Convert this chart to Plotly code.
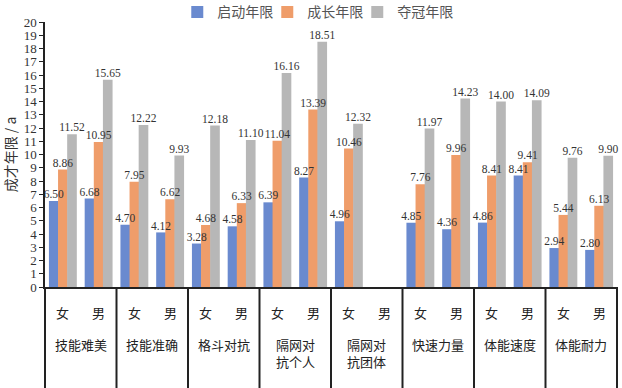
import plotly.graph_objects as go

groups = ["技能难美", "技能准确", "格斗对抗", "隔网对<br>抗个人", "隔网对<br>抗团体", "快速力量", "体能速度", "体能耐力"]
sexes = ["女", "男"]
series_names = ["启动年限", "成长年限", "夺冠年限"]
start_years = [6.50, 6.68, 4.70, 4.12, 3.28, 4.58, 6.39, 8.27, 4.96, None, 4.85, 4.36, 4.86, 8.41, 2.94, 2.80]
grow_years = [8.86, 10.95, 7.95, 6.62, 4.68, 6.33, 11.04, 13.39, 10.46, None, 7.76, 9.96, 8.41, 9.41, 5.44, 6.13]
champ_years = [11.52, 15.65, 12.22, 9.93, 12.18, 11.10, 16.16, 18.51, 12.32, None, 11.97, 14.23, 14.00, 14.09, 9.76, 9.90]
colors = ["#6A8ACF", "#EF9D6A", "#B7B7B7"]

n = len(groups) * len(sexes)
xs = list(range(n))

serif = "Liberation Serif, Times New Roman, serif"
cjk = "Noto Sans CJK SC, sans-serif"

bar_w = 0.27
offsets = [-0.39, -0.135, 0.12]

fig = go.Figure()
for name, vals, col, off in zip(series_names, [start_years, grow_years, champ_years], colors, offsets):
    fig.add_trace(go.Bar(
        x=xs, y=vals, name=name, marker_color=col, marker_line_width=0,
        width=bar_w, offset=off,
    ))
# spacer legend entry (invisible) so the last legend label is not clipped
fig.add_trace(go.Bar(x=[0], y=[0], name=" ", marker_color="rgba(0,0,0,0)",
                     marker_line_width=0, hoverinfo="skip", width=0.01))
for vals, off in zip([start_years, grow_years, champ_years], offsets):
    fig.add_trace(go.Scatter(
        x=[i + off + bar_w / 2 for i in xs], y=vals, mode="text",
        text=[("%.2f" % v) if v is not None else "" for v in vals],
        textposition="top center", cliponaxis=False, showlegend=False, hoverinfo="skip",
        textfont=dict(family=serif, size=11.5, color="#333"),
    ))

annotations = []
for i in xs:
    annotations.append(dict(x=(i + 0.5) / n, xref="paper", xanchor="center",
                            y=-0.098, yref="paper", yanchor="middle",
                            text=sexes[i % 2], showarrow=False,
                            font=dict(family=cjk, size=13, color="#222")))
for g, name in enumerate(groups):
    annotations.append(dict(x=(2 * g + 1) / n, xref="paper", xanchor="center",
                            y=-0.175, yref="paper", yanchor="top",
                            text=name, showarrow=False,
                            font=dict(family=cjk, size=13, color="#222")))

shapes = []
for g in range(len(groups) + 1):
    xp = 2 * g / n
    shapes.append(dict(type="line", xref="paper", yref="paper", x0=xp, x1=xp,
                       y0=0, y1=-0.40, line=dict(color="#222", width=2)))

fig.update_layout(
    width=622, height=388,
    margin=dict(l=45, r=5, t=22, b=101, autoexpand=False),
    paper_bgcolor="white", plot_bgcolor="white",
    barmode="overlay",
    showlegend=True,
    legend=dict(orientation="h", x=0.285, xanchor="left", xref="container",
                y=0.968, yanchor="middle", yref="container",
                font=dict(family=cjk, size=14, color="#555"),
                entrywidth=45, entrywidthmode="pixels", itemwidth=30,
                traceorder="normal"),
    xaxis=dict(range=[-0.5, n - 0.5], showticklabels=False, ticks="",
               showline=True, linecolor="#222", linewidth=2, showgrid=False, zeroline=False),
    yaxis=dict(range=[0, 20], dtick=1, tick0=0, ticks="outside", ticklen=4, tickcolor="#222",
               showline=True, linecolor="#222", linewidth=1.5, showgrid=False, zeroline=False,
               automargin=False,
               tickfont=dict(family=serif, size=13, color="#333"),
               title=dict(text="成才年限 / a", font=dict(family=cjk, size=14, color="#333"), standoff=4)),
    annotations=annotations,
    shapes=shapes,
)

fig.write_html("out.html", config={"displayModeBar": False},
               post_script="document.body.style.margin='0';")
